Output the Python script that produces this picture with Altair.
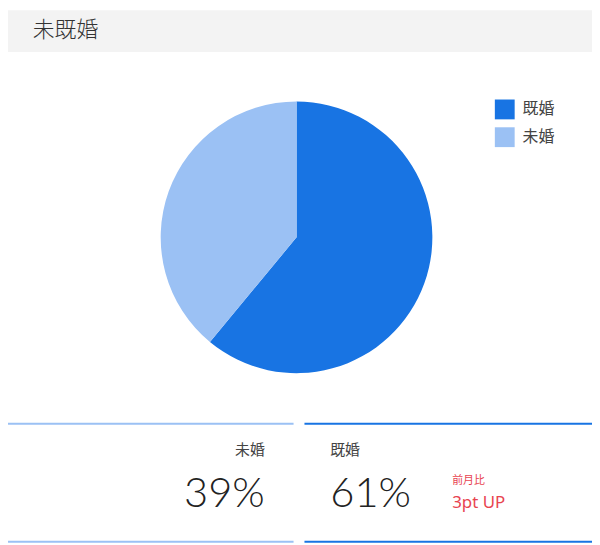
import altair as alt
import pandas as pd

# pie data
categories = ["既婚", "未婚"]
shares = [61, 39]
colors = ["#1874e3", "#9bc1f4"]

# text bits
title_text = "未既婚"
share_labels = ["61%", "39%"]
change_label = "前月比"
change_value = "3pt UP"

JP = "Noto Sans CJK JP"

pie_df = pd.DataFrame({"status": categories, "share": shares, "rank": [0, 1]})
one = pd.DataFrame({"k": [0]})

header = alt.Chart(one).mark_rect(color="#f3f3f3").encode(
    x=alt.value(0), x2=alt.value(589), y=alt.value(0), y2=alt.value(42)
)
title = alt.Chart(pd.DataFrame({"t": [title_text]})).mark_text(
    font=JP, fontSize=22, fontWeight=300, color="#333333", align="left",
    baseline="middle"
).encode(x=alt.value(25), y=alt.value(20), text="t:N")

pie = alt.Chart(pie_df).mark_arc(radius=137).encode(
    theta=alt.Theta("share:Q", stack=True),
    order=alt.Order("rank:Q"),
    color=alt.Color(
        "status:N",
        scale=alt.Scale(domain=categories, range=colors),
        legend=alt.Legend(
            title=None, orient="none", legendX=491, legendY=90,
            symbolType="square", symbolSize=400, symbolStrokeWidth=0,
            labelFont=JP, labelFontSize=16, labelColor="#444444",
            rowPadding=8, labelOffset=8,
        ),
    ),
    x=alt.value(291),
    y=alt.value(229),
)

layers = [header, title, pie]

# bottom panels: left = 未婚, right = 既婚
panels = [
    # status, share text, color, x0, x1, text x, align
    (categories[1], share_labels[1], colors[1], 0, 288, 259, "right"),
    (categories[0], share_labels[0], colors[0], 299, 589, 325, "left"),
]
for status, share_txt, col, x0, x1, tx, al in panels:
    for yy in (417, 536):
        layers.append(
            alt.Chart(one).mark_rule(color=col, strokeWidth=2).encode(
                x=alt.value(x0), x2=alt.value(x1), y=alt.value(yy)
            )
        )
    layers.append(
        alt.Chart(pd.DataFrame({"t": [status]})).mark_text(
            font=JP, fontSize=15, color="#444444", align=al, baseline="middle"
        ).encode(x=alt.value(tx), y=alt.value(444), text="t:N")
    )
    layers.append(
        alt.Chart(pd.DataFrame({"t": [share_txt]})).mark_text(
            font="Lato", fontWeight=300, fontSize=42, color="#222222",
            align=al, baseline="alphabetic"
        ).encode(x=alt.value(tx), y=alt.value(501), text="t:N")
    )

layers.append(
    alt.Chart(pd.DataFrame({"t": [change_label]})).mark_text(
        font=JP, fontSize=11, color="#e84450", align="left", baseline="middle"
    ).encode(x=alt.value(448), y=alt.value(475), text="t:N")
)
layers.append(
    alt.Chart(pd.DataFrame({"t": [change_value]})).mark_text(
        font="Noto Sans", fontSize=17, color="#e84450", align="left",
        baseline="alphabetic"
    ).encode(x=alt.value(448), y=alt.value(502), text="t:N")
)

chart = alt.layer(*layers).properties(
    width=589, height=537, padding=0, autosize=alt.AutoSizeParams(type="none")
).configure_view(stroke=None)

chart.save("out.html", embed_options={"renderer": "svg", "actions": False})
